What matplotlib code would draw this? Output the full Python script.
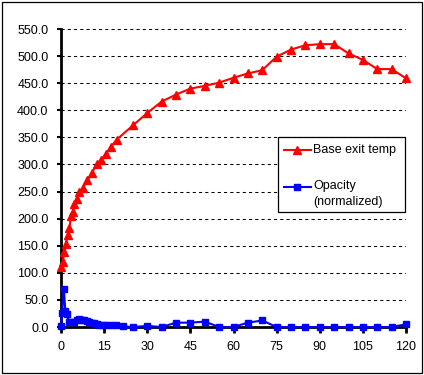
import matplotlib
matplotlib.use("Agg")
import matplotlib.pyplot as plt
from matplotlib.lines import Line2D
from matplotlib.patches import Rectangle

plt.rcParams['font.family'] = ['Liberation Sans', 'DejaVu Sans']

# ---- data ----
red_t = [0, 0.6, 1.1, 1.7, 2.3, 2.9, 3.5, 4.1, 4.6, 5.5, 6.3, 7.5, 9.2, 10.7,
         12.4, 13.9, 15.7, 17.4, 19.4, 25, 30, 35, 40, 45, 50, 55, 60, 65, 70,
         75, 80, 85, 90, 95, 100, 105, 110, 115, 120]
red_v = [111, 120, 139, 154, 170, 182, 204, 213, 227, 237, 250, 256, 271, 284,
         301, 308, 320, 333, 346, 372, 395, 416, 429, 440, 445, 451, 460, 468, 474,
         499, 512, 520, 522, 522, 505, 493, 476, 476, 459]

blue_t = [0, 0.4, 1.0, 1.5, 2.0, 2.7, 3.5, 4.6, 5.5, 6.4, 7.2, 8.1, 9.0, 9.8,
          10.7, 11.6, 12.5, 13.3, 14.5, 15.7, 17.4, 19.1, 21.5, 25, 30, 35, 40,
          45, 50, 55, 60, 65, 70, 75, 80, 85, 90, 95, 100, 105, 110, 115, 120]
blue_v = [1, 26, 71, 30, 24, 10, 9, 10, 12, 14, 13, 12, 11, 10,
          8, 7, 5, 4, 3, 3, 3, 3, 1, 0, 2, 0, 8,
          8, 10, 0, 0, 8, 12, 0, 0, 0, 0, 0, 0, 0, 0, 0, 5]

x_ticks = [0, 15, 30, 45, 60, 75, 90, 105, 120]
y_ticks = [0, 50, 100, 150, 200, 250, 300, 350, 400, 450, 500, 550]

label_red = "Base exit temp"
label_blue_1 = "Opacity"
label_blue_2 = "(normalized)"

W, H = 424, 375
fig = plt.figure(figsize=(W / 100, H / 100), dpi=100)
fig.patch.set_facecolor('white')


def fx(px):
    return px / W


def fy(py):
    return 1 - py / H


ax = fig.add_axes([fx(61), fy(327), fx(406) - fx(61), fy(29) - fy(327)])
ax.set_xlim(0, 120)
ax.set_ylim(0, 550)
for s in ['top', 'right']:
    ax.spines[s].set_visible(False)
for s in ['left', 'bottom']:
    ax.spines[s].set_linewidth(2)
    ax.spines[s].set_color('black')
    ax.spines[s].set_zorder(2)

ax.set_xticks(x_ticks)
ax.set_xticklabels([str(v) for v in x_ticks])
ax.set_yticks(y_ticks)
ax.set_yticklabels([f"{v:.1f}" for v in y_ticks])
ax.tick_params(axis='x', direction='out', length=4, width=2, pad=6, labelsize=9)
ax.tick_params(axis='y', direction='out', length=3, width=1.5, pad=6, labelsize=9)

for v in y_ticks[1:]:
    ax.axhline(v, color='black', lw=0.75, ls=(0, (3, 3)), zorder=1)

ax.plot(red_t, red_v, color='#FF0000', lw=1.5, marker='^', ms=5.5,
        mec='#FF0000', mfc='#FF0000', clip_on=False, zorder=3)
ax.plot(blue_t, blue_v, color='#0000FF', lw=1.5, marker='s', ms=4,
        mec='#0000FF', mfc='#0000FF', clip_on=False, zorder=4)

# legend (manual, Excel-style)
fig.add_artist(Rectangle((fx(278), fy(212)), fx(405) - fx(278), fy(137) - fy(212),
                         transform=fig.transFigure, fill=True, facecolor='white',
                         edgecolor='black', lw=0.9, zorder=5))
fig.add_artist(Line2D([fx(284), fx(311)], [fy(150), fy(150)], color='#FF0000', lw=1.5,
                      marker=None, transform=fig.transFigure, zorder=6))
fig.add_artist(Line2D([fx(297)], [fy(150)], color='#FF0000', marker='^', ms=5.5,
                      transform=fig.transFigure, zorder=6))
fig.add_artist(Line2D([fx(284), fx(311)], [fy(186.5), fy(186.5)], color='#0000FF', lw=1.5,
                      transform=fig.transFigure, zorder=6))
fig.add_artist(Line2D([fx(297)], [fy(186.5)], color='#0000FF', marker='s', ms=4,
                      transform=fig.transFigure, zorder=6))
fig.text(fx(313), fy(149.5), label_red, fontsize=9, va='center', ha='left', zorder=7)
fig.text(fx(313), fy(186), label_blue_1, fontsize=9, va='center', ha='left', zorder=7)
fig.text(fx(313), fy(202), label_blue_2, fontsize=9, va='center', ha='left', zorder=7)

# outer chart border
fig.add_artist(Rectangle((fx(2), fy(373)), fx(422) - fx(2), fy(2) - fy(373),
                         transform=fig.transFigure, fill=False, edgecolor='black',
                         lw=0.9, zorder=0))

fig.savefig("out.png", dpi=100, facecolor='white')
